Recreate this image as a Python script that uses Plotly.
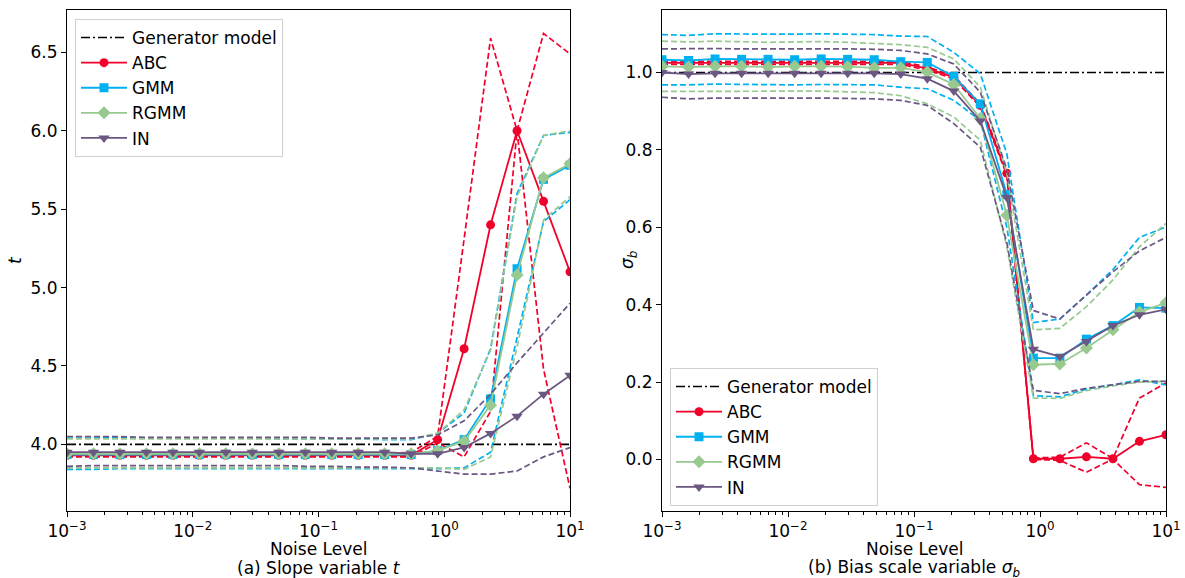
import numpy as np
import plotly.graph_objects as go

# ---------------- data ----------------
noise = np.logspace(-3, 1, 20)

# Panel (a): slope variable t
t_abc      = [3.93]*14 + [4.03, 4.61, 5.40, 6.00, 5.55, 5.10]
t_abc_up   = [3.94]*13 + [3.95, 4.05, 5.31, 6.59, 6.00, 6.62, 6.49]
t_abc_lo   = [3.92]*13 + [3.92, 4.01, 3.92, 4.21, 6.00, 4.48, 3.72]
t_gmm      = [3.935]*14 + [3.96, 4.03, 4.29, 5.12, 5.69, 5.78]
t_gmm_up   = [4.04, 4.04, 4.045, 4.04, 4.04, 4.04, 4.04, 4.04, 4.035, 4.035, 4.035, 4.035, 4.03, 4.03, 4.07, 4.20, 4.61, 5.60, 5.97, 5.99]
t_gmm_lo   = [3.84, 3.84, 3.845, 3.845, 3.845, 3.845, 3.845, 3.845, 3.845, 3.845, 3.845, 3.845, 3.845, 3.845, 3.845, 3.85, 3.95, 4.68, 5.42, 5.56]
t_rgmm     = [3.94]*14 + [3.96, 4.02, 4.25, 5.08, 5.70, 5.79]
t_rgmm_up  = [4.035]*13 + [4.035, 4.07, 4.22, 4.60, 5.58, 5.97, 6.00]
t_rgmm_lo  = [3.85]*13 + [3.85, 3.85, 3.84, 3.92, 4.62, 5.43, 5.58]
t_in       = [3.95]*13 + [3.94, 3.94, 3.98, 4.07, 4.18, 4.32, 4.44]
t_in_up    = [4.05, 4.05, 4.05, 4.045, 4.045, 4.045, 4.045, 4.045, 4.045, 4.045, 4.04, 4.04, 4.04, 4.04, 4.06, 4.15, 4.32, 4.52, 4.71, 4.90]
t_in_lo    = [3.86, 3.865, 3.865, 3.865, 3.865, 3.865, 3.865, 3.865, 3.865, 3.86, 3.86, 3.855, 3.855, 3.85, 3.83, 3.81, 3.81, 3.83, 3.92, 3.98]
t_gen      = 4.0

# Panel (b): bias scale variable sigma_b
s_abc      = [1.025]*10 + [1.01, 0.988, 0.915, 0.74, 0.002, 0.002, 0.007, 0.002, 0.047, 0.064]
s_abc_up   = [1.029]*10 + [1.014, 0.992, 0.919, 0.745, 0.004, 0.006, 0.043, 0.003, 0.159, 0.198]
s_abc_lo   = [1.021]*10 + [1.006, 0.984, 0.911, 0.735, 0.000, -0.002, -0.033, 0.001, -0.065, -0.072]
s_gmm      = [1.033, 1.031, 1.035, 1.034, 1.034, 1.033, 1.035, 1.034, 1.033, 1.028, 1.026, 0.99, 0.919, 0.685, 0.262, 0.262, 0.311, 0.346, 0.393, 0.391]
s_gmm_up   = [1.098, 1.096, 1.100, 1.099, 1.099, 1.099, 1.100, 1.099, 1.098, 1.094, 1.093, 1.052, 0.997, 0.79, 0.354, 0.363, 0.425, 0.491, 0.574, 0.601]
s_gmm_lo   = [0.968, 0.968, 0.970, 0.969, 0.969, 0.968, 0.969, 0.968, 0.968, 0.962, 0.958, 0.928, 0.876, 0.60, 0.165, 0.162, 0.182, 0.193, 0.206, 0.193]
s_rgmm     = [1.016, 1.014, 1.016, 1.016, 1.014, 1.016, 1.016, 1.015, 1.012, 1.012, 1.001, 0.969, 0.881, 0.631, 0.245, 0.247, 0.288, 0.335, 0.381, 0.405]
s_rgmm_up  = [1.081, 1.079, 1.081, 1.079, 1.078, 1.079, 1.080, 1.078, 1.075, 1.072, 1.065, 1.035, 0.962, 0.74, 0.335, 0.339, 0.395, 0.464, 0.55, 0.61]
s_rgmm_lo  = [0.951, 0.951, 0.952, 0.951, 0.951, 0.951, 0.952, 0.950, 0.948, 0.940, 0.919, 0.885, 0.825, 0.55, 0.159, 0.158, 0.178, 0.19, 0.20, 0.202]
s_in       = [1.000, 0.996, 0.998, 0.998, 0.998, 0.998, 0.998, 0.998, 0.998, 0.996, 0.984, 0.952, 0.875, 0.677, 0.285, 0.266, 0.305, 0.346, 0.374, 0.388]
s_in_up    = [1.061, 1.062, 1.062, 1.061, 1.061, 1.061, 1.062, 1.061, 1.060, 1.057, 1.048, 1.022, 0.949, 0.75, 0.385, 0.363, 0.425, 0.485, 0.539, 0.574]
s_in_lo    = [0.936, 0.932, 0.934, 0.934, 0.935, 0.934, 0.934, 0.933, 0.932, 0.928, 0.915, 0.868, 0.807, 0.56, 0.179, 0.17, 0.184, 0.193, 0.202, 0.202]
s_gen      = 1.0

methods = ["ABC", "GMM", "RGMM", "IN"]
colors = {"ABC": "#f0002a", "GMM": "#00b0f0", "RGMM": "#98c98f", "IN": "#6b5782"}
symbols = {"ABC": "circle", "GMM": "square", "RGMM": "diamond", "IN": "triangle-down"}
msize = {"ABC": 9, "GMM": 9, "RGMM": 10, "IN": 10}

panel_a = {"ABC": (t_abc, t_abc_up, t_abc_lo), "GMM": (t_gmm, t_gmm_up, t_gmm_lo),
           "RGMM": (t_rgmm, t_rgmm_up, t_rgmm_lo), "IN": (t_in, t_in_up, t_in_lo)}
panel_b = {"ABC": (s_abc, s_abc_up, s_abc_lo), "GMM": (s_gmm, s_gmm_up, s_gmm_lo),
           "RGMM": (s_rgmm, s_rgmm_up, s_rgmm_lo), "IN": (s_in, s_in_up, s_in_lo)}

W, H = 1185, 578
def px(x): return x / W
def py(y): return 1 - y / H

fig = go.Figure()
FONT = "DejaVu Sans"
FS = 17

for panel, xa, ya, leg, gen in [(panel_a, "x", "y", "legend", t_gen), (panel_b, "x2", "y2", "legend2", s_gen)]:
    fig.add_trace(go.Scatter(x=[noise[0], noise[-1]], y=[gen, gen], mode="lines",
                             line=dict(color="black", width=1.6, dash="9px,3px,2px,3px"),
                             name="Generator model", xaxis=xa, yaxis=ya, legend=leg))
    for m in methods:
        mean, up, lo = panel[m]
        for b in (up, lo):
            fig.add_trace(go.Scatter(x=noise, y=b, mode="lines",
                                     line=dict(color=colors[m], width=1.7, dash="6px,3px"),
                                     showlegend=False, xaxis=xa, yaxis=ya, hoverinfo="skip"))
        fig.add_trace(go.Scatter(x=noise, y=mean, mode="lines+markers", name=m,
                                 line=dict(color=colors[m], width=1.8),
                                 marker=dict(symbol=symbols[m], size=msize[m], color=colors[m]),
                                 xaxis=xa, yaxis=ya, legend=leg))

major = [1e-3, 1e-2, 1e-1, 1e0, 1e1]
majtxt = ["10<sup>−3</sup>", "10<sup>−2</sup>", "10<sup>−1</sup>", "10<sup>0</sup>", "10<sup>1</sup>"]
minor_vals = [k * 10.0**e for e in range(-3, 1) for k in range(2, 10)]

xcommon = dict(type="log", range=[-3, 1], tickmode="array", tickvals=major, ticktext=majtxt,
               ticks="outside", ticklen=5, tickwidth=1, tickcolor="black", automargin=False,
               showline=True, linecolor="black", linewidth=1, mirror=True, showgrid=False,
               zeroline=False, tickfont=dict(family=FONT, size=FS, color="black"),
               minor=dict(tickmode="array", tickvals=minor_vals, ticks="outside", ticklen=3,
                          tickcolor="black", tickwidth=0.8, showgrid=False))
ycommon = dict(ticks="outside", ticklen=5, tickwidth=1, tickcolor="black", automargin=False,
               showline=True, linecolor="black", linewidth=1, mirror=True, showgrid=False,
               zeroline=False, tickfont=dict(family=FONT, size=FS, color="black"))

yb, yt = py(511), py(10)
fig.update_layout(
    width=W, height=H, margin=dict(l=0, r=0, t=0, b=0, autoexpand=False),
    paper_bgcolor="white", plot_bgcolor="white",
    font=dict(family=FONT, size=FS, color="black"),
    xaxis=dict(domain=[px(67), px(570)], anchor="y", **xcommon),
    yaxis=dict(domain=[yb, yt], anchor="x", range=[3.575, 6.77],
               tickvals=[4.0, 4.5, 5.0, 5.5, 6.0, 6.5], tickformat=".1f", **ycommon),
    xaxis2=dict(domain=[px(662), px(1166)], anchor="y2", **xcommon),
    yaxis2=dict(domain=[yb, yt], anchor="x2", range=[-0.133, 1.1615],
                tickvals=[0.0, 0.2, 0.4, 0.6, 0.8, 1.0], tickformat=".1f", **ycommon),
    legend=dict(x=px(75), y=py(19), xanchor="left", yanchor="top", bgcolor="white",
                bordercolor="#d0d0d0", borderwidth=1, itemwidth=46,
                font=dict(family=FONT, size=FS)),
    legend2=dict(x=px(670), y=py(368), xanchor="left", yanchor="top", bgcolor="white",
                 bordercolor="#d0d0d0", borderwidth=1, itemwidth=46,
                 font=dict(family=FONT, size=FS)),
    showlegend=True,
)

annots = [
    dict(x=px(318.5), y=py(548.5), text="Noise Level"),
    dict(x=px(318.5), y=py(568), text="(a) Slope variable <i>t</i>"),
    dict(x=px(914), y=py(548.5), text="Noise Level"),
    dict(x=px(914), y=py(568), text="(b) Bias scale variable <i>σ<sub>b</sub></i>"),
    dict(x=px(15), y=py(260), text="<i>t</i>", textangle=-90),
    dict(x=px(628), y=py(260), text="<i>σ<sub>b</sub></i>", textangle=-90),
]
for a in annots:
    fig.add_annotation(xref="paper", yref="paper", showarrow=False, xanchor="center", yanchor="middle",
                       font=dict(family=FONT, size=FS, color="black"), **a)

fig.write_html("out.html")
